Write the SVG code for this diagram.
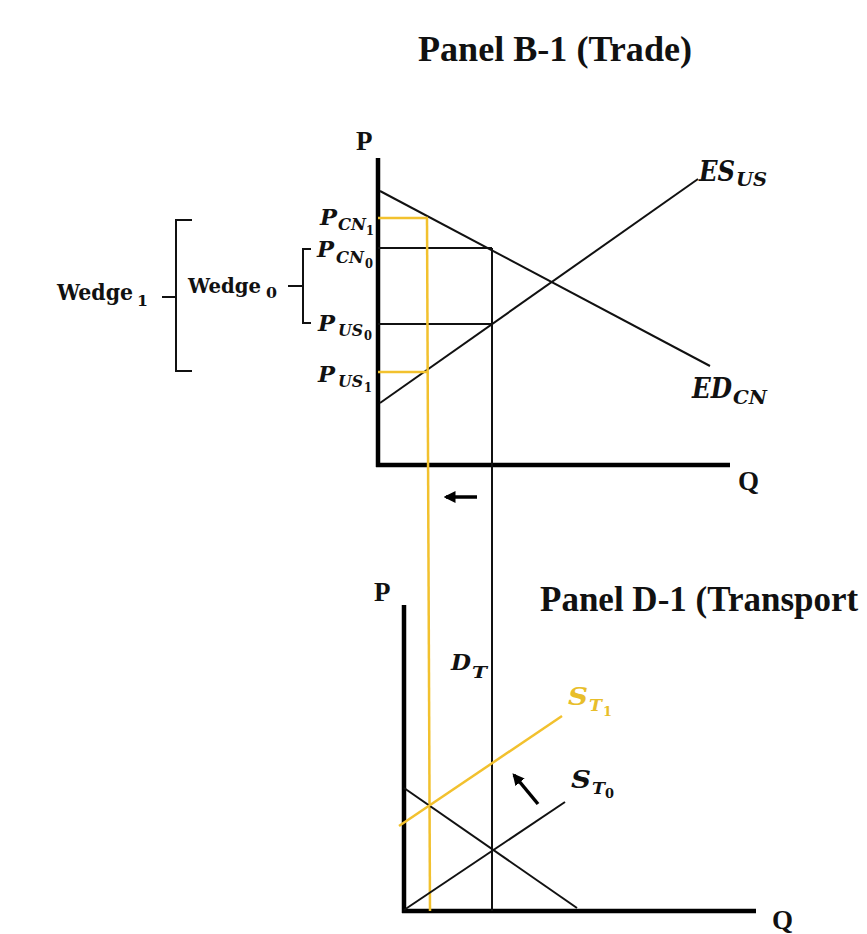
<svg xmlns="http://www.w3.org/2000/svg" width="867" height="934" viewBox="0 0 867 934">
<style>
.title{font-family:"Liberation Serif",serif;font-weight:bold;font-size:35px;fill:#111}
.ax{font-family:"Liberation Serif",serif;font-weight:bold;font-size:27px;fill:#111}
.m{font-family:"DejaVu Serif","Liberation Serif",serif;font-weight:bold;font-style:italic;fill:#111}
.d{font-family:"DejaVu Serif","Liberation Serif",serif;font-weight:bold;fill:#111}
.w{font-family:"DejaVu Serif","Liberation Serif",serif;font-weight:bold;fill:#111}
.axis{stroke:#000;stroke-width:4.5;fill:none}
.ln{stroke:#111;stroke-width:2;fill:none}
.yl{stroke:#F2C12E;stroke-width:2.5;fill:none}
.br{stroke:#111;stroke-width:2;fill:none}
.arr{stroke:#000;stroke-width:3.5;fill:none}
.gold{fill:#E8BE2A}
</style>
<defs>
<marker id="ah" viewBox="0 0 10 10" refX="8" refY="5" markerWidth="3.4" markerHeight="3.4" orient="auto" markerUnits="strokeWidth">
<path d="M0,0 L10,5 L0,10 Z" fill="#000"/>
</marker>
</defs>
<rect width="867" height="934" fill="#fff"/>

<g id="titles">
<text class="title" x="418" y="61" textLength="274" lengthAdjust="spacingAndGlyphs">Panel B-1 (Trade)</text>
<text class="title" x="540" y="611">Panel D-1 (Transport</text>
</g>

<g id="axes">
<line class="axis" x1="378" y1="158" x2="378" y2="467"/>
<line class="axis" x1="376" y1="465" x2="730" y2="465"/>
<text class="ax" x="356" y="150">P</text>
<text class="ax" x="738" y="490">Q</text>
<line class="axis" x1="404" y1="605" x2="404" y2="913"/>
<line class="axis" x1="402" y1="911" x2="756" y2="911"/>
<text class="ax" x="374" y="601">P</text>
<text class="ax" x="772" y="929" font-size="25">Q</text>
</g>

<g id="connectors">
<line class="ln" x1="380" y1="191" x2="710" y2="366"/>
<line class="ln" x1="380" y1="403" x2="698" y2="179"/>
<line class="ln" x1="378" y1="248" x2="492" y2="248"/>
<line class="ln" x1="378" y1="324" x2="492" y2="324"/>
<line class="ln" x1="492" y1="248" x2="492" y2="911"/>
<line class="yl" x1="378" y1="218" x2="428" y2="218"/>
<line class="yl" x1="378" y1="372" x2="428" y2="372"/>
<line class="yl" x1="427" y1="218" x2="430" y2="911"/>
<line class="ln" x1="404" y1="788" x2="577" y2="908"/>
<line class="ln" x1="404" y1="910" x2="565" y2="802"/>
<line class="yl" x1="399" y1="826" x2="562" y2="716"/>
<line class="arr" x1="477" y1="497" x2="446" y2="497" marker-end="url(#ah)"/>
<line class="arr" x1="538" y1="804" x2="514" y2="775" marker-end="url(#ah)"/>
<path class="br" d="M311,249 L303,249 L303,323 L311,323 M303,286 L288,286"/>
<path class="br" d="M192,220 L176,220 L176,371 L192,371 M176,297 L162,297"/>
</g>

<g id="label-PCN1">
<text class="m" x="320" y="225" font-size="23" textLength="17" lengthAdjust="spacingAndGlyphs">P</text>
<text class="m" x="338" y="230" font-size="16" textLength="28" lengthAdjust="spacingAndGlyphs">CN</text>
<text class="d" x="366" y="235" font-size="12" textLength="8" lengthAdjust="spacingAndGlyphs">1</text>
</g>
<g id="label-PCN0">
<text class="m" x="317" y="257" font-size="23" textLength="17" lengthAdjust="spacingAndGlyphs">P</text>
<text class="m" x="336" y="263" font-size="16" textLength="28" lengthAdjust="spacingAndGlyphs">CN</text>
<text class="d" x="365" y="268" font-size="12" textLength="8" lengthAdjust="spacingAndGlyphs">0</text>
</g>
<g id="label-PUS0">
<text class="m" x="318" y="331" font-size="23" textLength="17" lengthAdjust="spacingAndGlyphs">P</text>
<text class="m" x="338" y="336" font-size="16" textLength="25" lengthAdjust="spacingAndGlyphs">US</text>
<text class="d" x="364" y="340" font-size="12" textLength="8" lengthAdjust="spacingAndGlyphs">0</text>
</g>
<g id="label-PUS1">
<text class="m" x="318" y="382" font-size="23" textLength="17" lengthAdjust="spacingAndGlyphs">P</text>
<text class="m" x="338" y="387" font-size="16" textLength="25" lengthAdjust="spacingAndGlyphs">US</text>
<text class="d" x="364" y="392" font-size="12" textLength="8" lengthAdjust="spacingAndGlyphs">1</text>
</g>
<g id="label-ESUS">
<text class="m" x="699" y="181" font-size="27" textLength="36" lengthAdjust="spacingAndGlyphs">ES</text>
<text class="m" x="736" y="186" font-size="19" textLength="31" lengthAdjust="spacingAndGlyphs">US</text>
</g>
<g id="label-EDCN">
<text class="m" x="692" y="398" font-size="27" textLength="40" lengthAdjust="spacingAndGlyphs">ED</text>
<text class="m" x="733" y="404" font-size="19" textLength="34" lengthAdjust="spacingAndGlyphs">CN</text>
</g>
<g id="label-DT">
<text class="m" x="451" y="670" font-size="23" textLength="20" lengthAdjust="spacingAndGlyphs">D</text>
<text class="m" x="472" y="678" font-size="17" textLength="15" lengthAdjust="spacingAndGlyphs">T</text>
</g>
<g id="label-ST1">
<text class="m gold" x="568" y="705" font-size="25" textLength="20" lengthAdjust="spacingAndGlyphs">S</text>
<text class="m gold" x="589" y="711" font-size="17" textLength="13" lengthAdjust="spacingAndGlyphs">T</text>
<text class="d gold" x="603" y="716" font-size="13" textLength="9" lengthAdjust="spacingAndGlyphs">1</text>
</g>
<g id="label-ST0">
<text class="m" x="571" y="788" font-size="25" textLength="20" lengthAdjust="spacingAndGlyphs">S</text>
<text class="m" x="592" y="794" font-size="17" textLength="13" lengthAdjust="spacingAndGlyphs">T</text>
<text class="d" x="605" y="798" font-size="13" textLength="9" lengthAdjust="spacingAndGlyphs">0</text>
</g>
<g id="label-wedge1">
<text class="w" x="57" y="300" font-size="22" textLength="76" lengthAdjust="spacingAndGlyphs">Wedge</text>
<text class="w" x="137" y="306" font-size="15" textLength="11" lengthAdjust="spacingAndGlyphs">1</text>
</g>
<g id="label-wedge0">
<text class="w" x="188" y="293" font-size="21" textLength="73" lengthAdjust="spacingAndGlyphs">Wedge</text>
<text class="w" x="266" y="298" font-size="15" textLength="11" lengthAdjust="spacingAndGlyphs">0</text>
</g>
</svg>
